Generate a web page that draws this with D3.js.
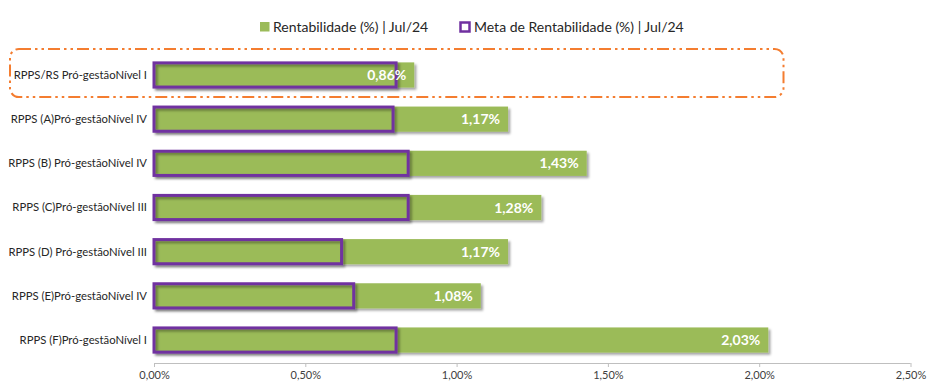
<!DOCTYPE html>
<html>
<head>
<meta charset="utf-8">
<script src="https://cdn.jsdelivr.net/npm/d3@7"></script>
<style>
  html, body { margin: 0; padding: 0; background: #fff; }
  svg { display: block; font-family: Lato, "Open Sans", sans-serif; }
</style>
</head>
<body>
<svg id="chart" width="928" height="385"></svg>
<script>
// Categories (top to bottom)
const categories = [
  "RPPS/RS Pró-gestãoNível I",
  "RPPS (A)Pró-gestãoNível IV",
  "RPPS (B) Pró-gestãoNível IV",
  "RPPS (C)Pró-gestãoNível III",
  "RPPS (D) Pró-gestãoNível III",
  "RPPS (E)Pró-gestãoNível IV",
  "RPPS (F)Pró-gestãoNível I"
];
// Rentabilidade (%) | Jul/24
const rentabilidade = [0.86, 1.17, 1.43, 1.28, 1.17, 1.08, 2.03];
// Meta de Rentabilidade (%) | Jul/24
const meta = [0.80, 0.79, 0.84, 0.84, 0.62, 0.66, 0.80];
// Axis ticks
const xTicks = [0, 0.5, 1.0, 1.5, 2.0, 2.5];
const seriesNames = ["Rentabilidade (%) | Jul/24", "Meta de Rentabilidade (%) | Jul/24"];

const GREEN = "#9BBB59";
const PURPLE = "#7030A0";
const ORANGE = "#F47D30";

const svg = d3.select("#chart");
const fmt = v => v.toFixed(2).replace(".", ",") + "%";

const x = d3.scaleLinear().domain([0, 2.5]).range([154, 910.5]);
const y = d3.scaleBand().domain(categories).range([52, 363])
  .paddingInner(0.43).paddingOuter(0.235);

// drop shadow for the bars
const defs = svg.append("defs");
const f = defs.append("filter").attr("id", "shadow")
  .attr("x", "-5%").attr("y", "-30%").attr("width", "115%").attr("height", "170%");
f.append("feDropShadow").attr("dx", 2.2).attr("dy", 2.2).attr("stdDeviation", 1.3)
  .attr("flood-color", "#000").attr("flood-opacity", 0.35);

// highlight frame around the first row
const firstRow = categories[0];
svg.append("rect")
  .attr("x", 10).attr("y", y(firstRow) - 13.5)
  .attr("width", 773.5).attr("height", y.bandwidth() + 23)
  .attr("rx", 9).attr("ry", 9)
  .attr("fill", "none").attr("stroke", ORANGE).attr("stroke-width", 2)
  .attr("stroke-dasharray", "12 4 2.5 4 2.5 4");

// x axis
const axisG = svg.append("g").attr("transform", "translate(0,363)")
  .call(d3.axisBottom(x).tickValues(xTicks).tickSize(4).tickFormat(fmt));
axisG.select(".domain").attr("stroke", "#BFBFBF").attr("d", `M${x(0)},0.5H${x(2.5)}`);
axisG.selectAll(".tick line").attr("stroke", "#BFBFBF");
axisG.selectAll(".tick text").attr("fill", "#404040").attr("font-size", 11)
  .attr("y", 8.5).attr("dy", "0.71em").attr("font-family", "Lato, sans-serif");

// green bars
svg.append("g").selectAll("rect").data(categories).join("rect")
  .attr("x", x(0)).attr("y", d => y(d))
  .attr("width", (d, i) => x(rentabilidade[i]) - x(0))
  .attr("height", y.bandwidth())
  .attr("fill", GREEN).attr("filter", "url(#shadow)");

// meta outline bars
svg.append("g").selectAll("rect").data(categories).join("rect")
  .attr("x", x(0)).attr("y", d => y(d) + 0.5)
  .attr("width", (d, i) => x(meta[i]) - x(0))
  .attr("height", y.bandwidth() - 1)
  .attr("fill", "none").attr("stroke", PURPLE).attr("stroke-width", 3)
  .attr("filter", "url(#shadow)");

// value labels
svg.append("g").selectAll("text").data(categories).join("text")
  .attr("x", (d, i) => x(rentabilidade[i]) - 8)
  .attr("y", d => y(d) + y.bandwidth() / 2)
  .attr("dy", "0.36em").attr("text-anchor", "end")
  .attr("fill", "#fff").attr("font-weight", "bold").attr("font-size", 14)
  .text((d, i) => fmt(rentabilidade[i]));

// category labels
svg.append("g").selectAll("text").data(categories).join("text")
  .attr("x", 147).attr("y", d => y(d) + y.bandwidth() / 2)
  .attr("dy", "0.35em").attr("text-anchor", "end")
  .attr("fill", "#262626").attr("font-size", 11.3)
  .text(d => d);

// legend
const lg = svg.append("g").attr("font-size", 14).attr("fill", "#262626");
lg.append("rect").attr("x", 260).attr("y", 22).attr("width", 9.5).attr("height", 9.5).attr("fill", GREEN);
lg.append("text").attr("x", 273).attr("y", 27).attr("dy", "0.35em").text(seriesNames[0]);
lg.append("rect").attr("x", 460.5).attr("y", 22.5).attr("width", 9).attr("height", 9)
  .attr("fill", "#fff").attr("stroke", PURPLE).attr("stroke-width", 2.5);
lg.append("text").attr("x", 474).attr("y", 27).attr("dy", "0.35em").text(seriesNames[1]);
</script>
</body>
</html>
